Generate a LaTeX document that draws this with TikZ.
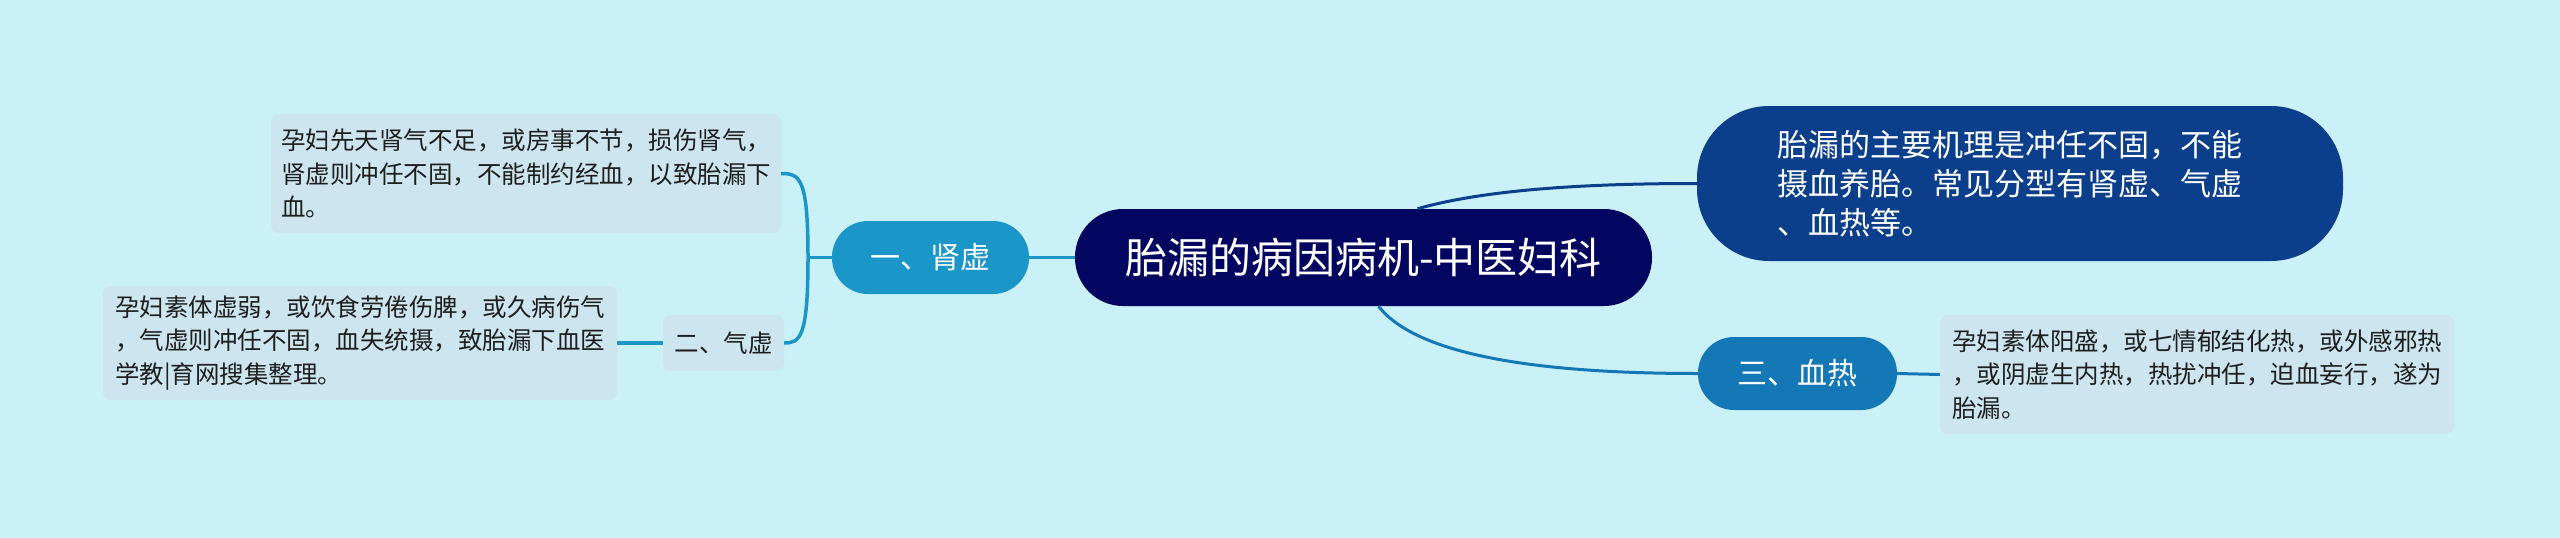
\documentclass[tikz,border=0pt]{standalone}
\usepackage{fontspec}
\newfontfamily\cjk{Noto Sans CJK SC}
\definecolor{bgc}{RGB}{202,240,248}
\definecolor{leafc}{RGB}{205,229,239}
\definecolor{centc}{RGB}{3,6,96}
\definecolor{trc}{RGB}{11,63,139}
\definecolor{xrc}{RGB}{20,120,182}
\definecolor{sxc}{RGB}{27,150,200}
\definecolor{txtc}{RGB}{30,30,30}
\begin{document}
\begin{tikzpicture}[x=1pt,y=-1pt,
  leaf/.style={fill=leafc, rounded corners=8pt, align=left, text width=490pt, inner xsep=0pt, inner ysep=0pt, text=txtc, font=\cjk\fontsize{24.5}{33.5}\selectfont},
  pill/.style={rounded corners=#1, inner sep=0pt, text=white},
  conn/.style={line width=3pt}
]
\fill[bgc] (0,0) rectangle (2560,538);
\useasboundingbox (0,0) rectangle (2560,538);

% nodes
\node[pill=48pt, fill=centc, minimum width=577pt, minimum height=97pt, font=\cjk\fontsize{42}{50}\selectfont] (central) at (1363.5,257.5) {胎漏的病因病机-中医妇科};
\node[pill=72pt, fill=trc, minimum width=646pt, minimum height=155pt, align=left, text width=485pt, font=\cjk\fontsize{31}{39}\selectfont] (tr) at (2020,183.5) {胎漏的主要机理是冲任不固，不能\\摄血养胎。常见分型有肾虚、气虚\\、血热等。};
\node[pill=36pt, fill=xrc, minimum width=199pt, minimum height=73pt, font=\cjk\fontsize{30}{36}\selectfont] (xr) at (1797.5,373.5) {三、血热};
\node[pill=36pt, fill=sxc, minimum width=197pt, minimum height=73pt, font=\cjk\fontsize{30}{36}\selectfont] (sx) at (930.5,257.5) {一、肾虚};
\node[rounded corners=8pt, fill=leafc, inner sep=0pt, text=txtc, minimum width=121pt, minimum height=56pt, font=\cjk\fontsize{24.5}{30}\selectfont] (qx) at (723.5,343) {二、气虚};
\node[leaf, minimum width=510pt, minimum height=119pt] (tl) at (526,173.5) {孕妇先天肾气不足，或房事不节，损伤肾气，\\肾虚则冲任不固，不能制约经血，以致胎漏下\\血。};
\node[leaf, minimum width=514pt, minimum height=114pt] (bl) at (360,343) {孕妇素体虚弱，或饮食劳倦伤脾，或久病伤气\\，气虚则冲任不固，血失统摄，致胎漏下血医\\学教|育网搜集整理。};
\node[leaf, minimum width=514pt, minimum height=119pt] (rl) at (2197,374.5) {孕妇素体阳盛，或七情郁结化热，或外感邪热\\，或阴虚生内热，热扰冲任，迫血妄行，遂为\\胎漏。};

% connectors
\coordinate (br) at (808,257.5);
\draw[conn, sxc] (sx.east) -- (central.west);
\draw[conn, sxc, line width=3.5pt] (sx.west) -- (br);
\draw[conn, sxc, line width=3.5pt] (br) .. controls (808,178) and (800,173.5) .. (tl.east);
\draw[conn, sxc, line width=3.5pt] (br) .. controls (808,338) and (800,343) .. (qx.east);
\draw[conn, sxc, line width=3.5pt] (qx.west) -- (bl.east);
\draw[conn, trc] ([xshift=54pt]central.north) .. controls (1490,188) and (1600,183.5) .. (tr.west);
\draw[conn, xrc] ([xshift=15pt]central.south) .. controls (1420,360) and (1560,373.5) .. (xr.west);
\draw[conn, xrc] (xr.east) -- (rl.west);
\end{tikzpicture}
\end{document}
